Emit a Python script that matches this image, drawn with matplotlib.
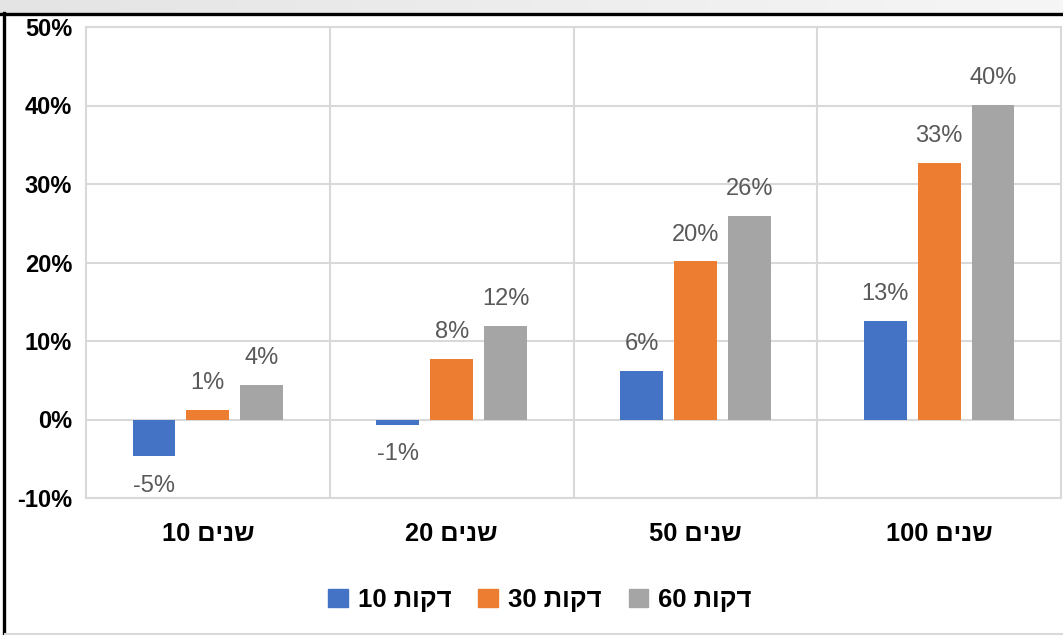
import numpy as np
import matplotlib
matplotlib.use("Agg")
import matplotlib.pyplot as plt
from matplotlib.patches import Patch

plt.rcParams['font.family'] = ['Liberation Sans', 'DejaVu Sans']

# horizon in years, one group of bars per horizon
years = [10, 20, 50, 100]
# sampling interval in minutes, one bar per series
minutes = [10, 30, 60]
# change in percent
vals_10 = [-4.7, -0.64, 6.23, 12.6]
vals_30 = [1.27, 7.76, 20.2, 32.7]
vals_60 = [4.45, 11.96, 25.95, 40.1]
colors = ['#4472C4', '#ED7D31', '#A5A5A5']

y_ticks = [-10, 0, 10, 20, 30, 40, 50]

WORD_YEARS = "שנים"
WORD_MIN = "דקות"


def heb(num, word):
    # matplotlib lays text out left to right, so give the Hebrew word in visual order
    return f"{num} " + word[::-1]


W, H = 1063, 635
fig = plt.figure(figsize=(W / 100, H / 100), dpi=100)

# frame: soft grey band on top, black edge lines
bg = fig.add_axes([0, 0, 1, 1], zorder=0)
bg.set_xlim(0, W)
bg.set_ylim(H, 0)
bg.axis('off')
grad = np.linspace(0, 1, 256).reshape(1, -1)
bg.imshow(grad, extent=(0, W, 13, 0), cmap=matplotlib.colors.LinearSegmentedColormap.from_list(
    'band', ['#e4e4e4', '#f6f6f6']), aspect='auto')
bg.plot([0, W], [13.5, 13.5], color='black', lw=2.4)
bg.plot([3.5, 3.5], [13, H], color='black', lw=2.4)
bg.plot([5, W], [633.5, 633.5], color='#d9d9d9', lw=1.5)

ax = fig.add_axes([86 / W, 1 - 498 / H, (1061 - 86) / W, (498 - 27) / H], zorder=1)

x = np.arange(len(years))
width = 0.176
step = 0.221
series = [vals_10, vals_30, vals_60]
for i, (vals, c) in enumerate(zip(series, colors)):
    pos = x + (i - 1) * step
    bars = ax.bar(pos, vals, width=width, color=c, zorder=3)
    for b, v in zip(bars, vals):
        off = 19 if v >= 0 else -21
        ax.annotate(f"{v:.0f}%", (b.get_x() + b.get_width() / 2, v),
                    xytext=(0, off), textcoords='offset points',
                    ha='center', va='center', fontsize=17, color='#595959')

ax.set_xlim(-0.5, len(years) - 0.5)
ax.set_ylim(-10, 50)
ax.set_yticks(y_ticks)
ax.set_yticklabels([f"{t}%" for t in y_ticks], fontsize=17, fontweight='bold')
ax.set_xticks(x)
ax.set_xticklabels([heb(y, WORD_YEARS) for y in years], fontsize=18.3, fontweight='bold')
ax.set_xticks(x[:-1] + 0.5, minor=True)
ax.tick_params(axis='both', which='both', length=0)
ax.tick_params(axis='y', pad=10)
ax.tick_params(axis='x', pad=17)
ax.grid(axis='y', which='major', color='#d9d9d9', lw=1.5, zorder=0)
ax.grid(axis='x', which='minor', color='#d9d9d9', lw=1.5, zorder=0)
for s in ax.spines.values():
    s.set_color('#d9d9d9')
    s.set_linewidth(1.5)

handles = [Patch(color=c) for c in colors]
labels = [heb(m, WORD_MIN) for m in minutes]
fig.legend(handles, labels, loc='center', bbox_to_anchor=(540 / W, 1 - 600 / H),
           ncol=3, frameon=False, handlelength=0.75, handleheight=0.75,
           handletextpad=0.4, columnspacing=1.05,
           prop={'size': 18.5, 'weight': 'bold'})

fig.savefig('out.png', dpi=100)
